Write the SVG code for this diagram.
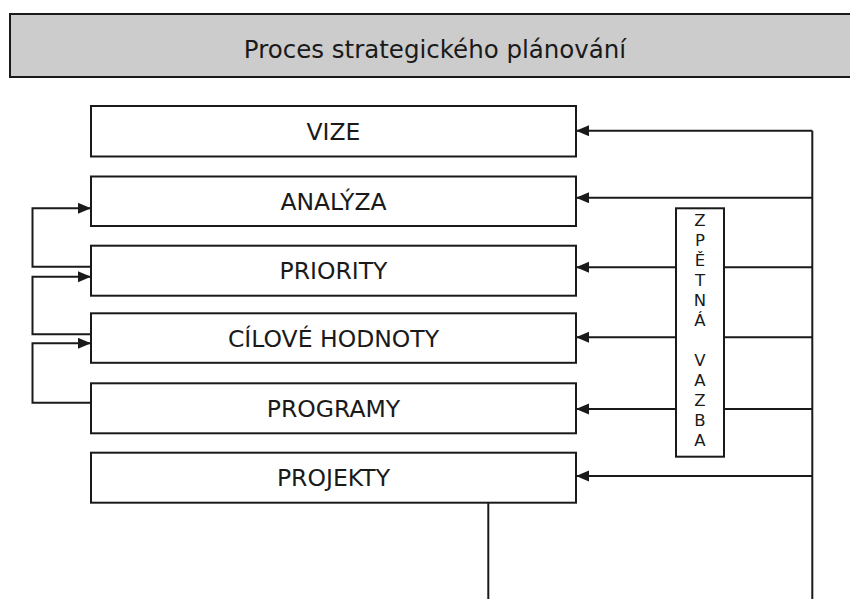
<svg xmlns="http://www.w3.org/2000/svg" width="850" height="599" viewBox="0 0 850 599">
<style>
.box{fill:#fff;stroke:#1a1a1a;stroke-width:2}
.lbl{font-family:"DejaVu Sans",Verdana,sans-serif;font-size:23.5px;fill:#1a1a1a;text-anchor:middle}
.con{fill:none;stroke:#1a1a1a;stroke-width:2}
.vt{font-family:"DejaVu Sans",Verdana,sans-serif;font-size:16.5px;fill:#1a1a1a;text-anchor:middle}
</style>
<defs>
<marker id="ah" markerUnits="userSpaceOnUse" markerWidth="14" markerHeight="12" refX="13" refY="5.5" orient="auto">
<path d="M0,0 L13,5.5 L0,11 z" fill="#1a1a1a"/>
</marker>
</defs>
<rect width="850" height="599" fill="#fff"/>
<g id="title">
<rect x="10" y="14" width="845" height="63" fill="#cccccc" stroke="#1a1a1a" stroke-width="2"/>
<text x="435" y="58" font-family="DejaVu Sans,Verdana,sans-serif" font-size="24.5" fill="#1a1a1a" text-anchor="middle">Proces strategického plánování</text>
</g>
<g id="connectors">
<path class="con" d="M91,266.7 H32.5 V208.3 H91" marker-end="url(#ah)"/>
<path class="con" d="M91,334.3 H32.5 V276.7 H91" marker-end="url(#ah)"/>
<path class="con" d="M91,402.7 H32.5 V343.3 H91" marker-end="url(#ah)"/>
<path class="con" d="M812.3,130.7 V599"/>
<path class="con" d="M812.3,130.7 H576" marker-end="url(#ah)"/>
<path class="con" d="M812.3,197.7 H576" marker-end="url(#ah)"/>
<path class="con" d="M812.3,267.3 H576" marker-end="url(#ah)"/>
<path class="con" d="M812.3,337.3 H576" marker-end="url(#ah)"/>
<path class="con" d="M812.3,409 H576" marker-end="url(#ah)"/>
<path class="con" d="M812.3,476 H576" marker-end="url(#ah)"/>
<path class="con" d="M488.3,502.7 V599"/>
</g>
<g id="vize"><rect class="box" x="91" y="106" width="485" height="50.5"/><text class="lbl" x="333.5" y="139.5">VIZE</text></g>
<g id="analyza"><rect class="box" x="91" y="176.5" width="485" height="49.5"/><text class="lbl" x="333.5" y="209.5">ANALÝZA</text></g>
<g id="priority"><rect class="box" x="91" y="245.7" width="485" height="50"/><text class="lbl" x="333.5" y="279">PRIORITY</text></g>
<g id="cilove-hodnoty"><rect class="box" x="91" y="313.3" width="485" height="49.5"/><text class="lbl" x="333.5" y="347">CÍLOVÉ HODNOTY</text></g>
<g id="programy"><rect class="box" x="91" y="383.3" width="485" height="50"/><text class="lbl" x="333.5" y="416.5">PROGRAMY</text></g>
<g id="projekty"><rect class="box" x="91" y="452.7" width="485" height="50"/><text class="lbl" x="333.5" y="486">PROJEKTY</text></g>
<g id="zpetna-vazba">
<rect class="box" x="676" y="208.3" width="48" height="248.4"/>
<text class="vt" x="700" y="226">Z</text>
<text class="vt" x="700" y="246">P</text>
<text class="vt" x="700" y="266">Ě</text>
<text class="vt" x="700" y="286">T</text>
<text class="vt" x="700" y="306">N</text>
<text class="vt" x="700" y="326">Á</text>
<text class="vt" x="700" y="366">V</text>
<text class="vt" x="700" y="386">A</text>
<text class="vt" x="700" y="406">Z</text>
<text class="vt" x="700" y="426">B</text>
<text class="vt" x="700" y="446">A</text>
</g>
</svg>
